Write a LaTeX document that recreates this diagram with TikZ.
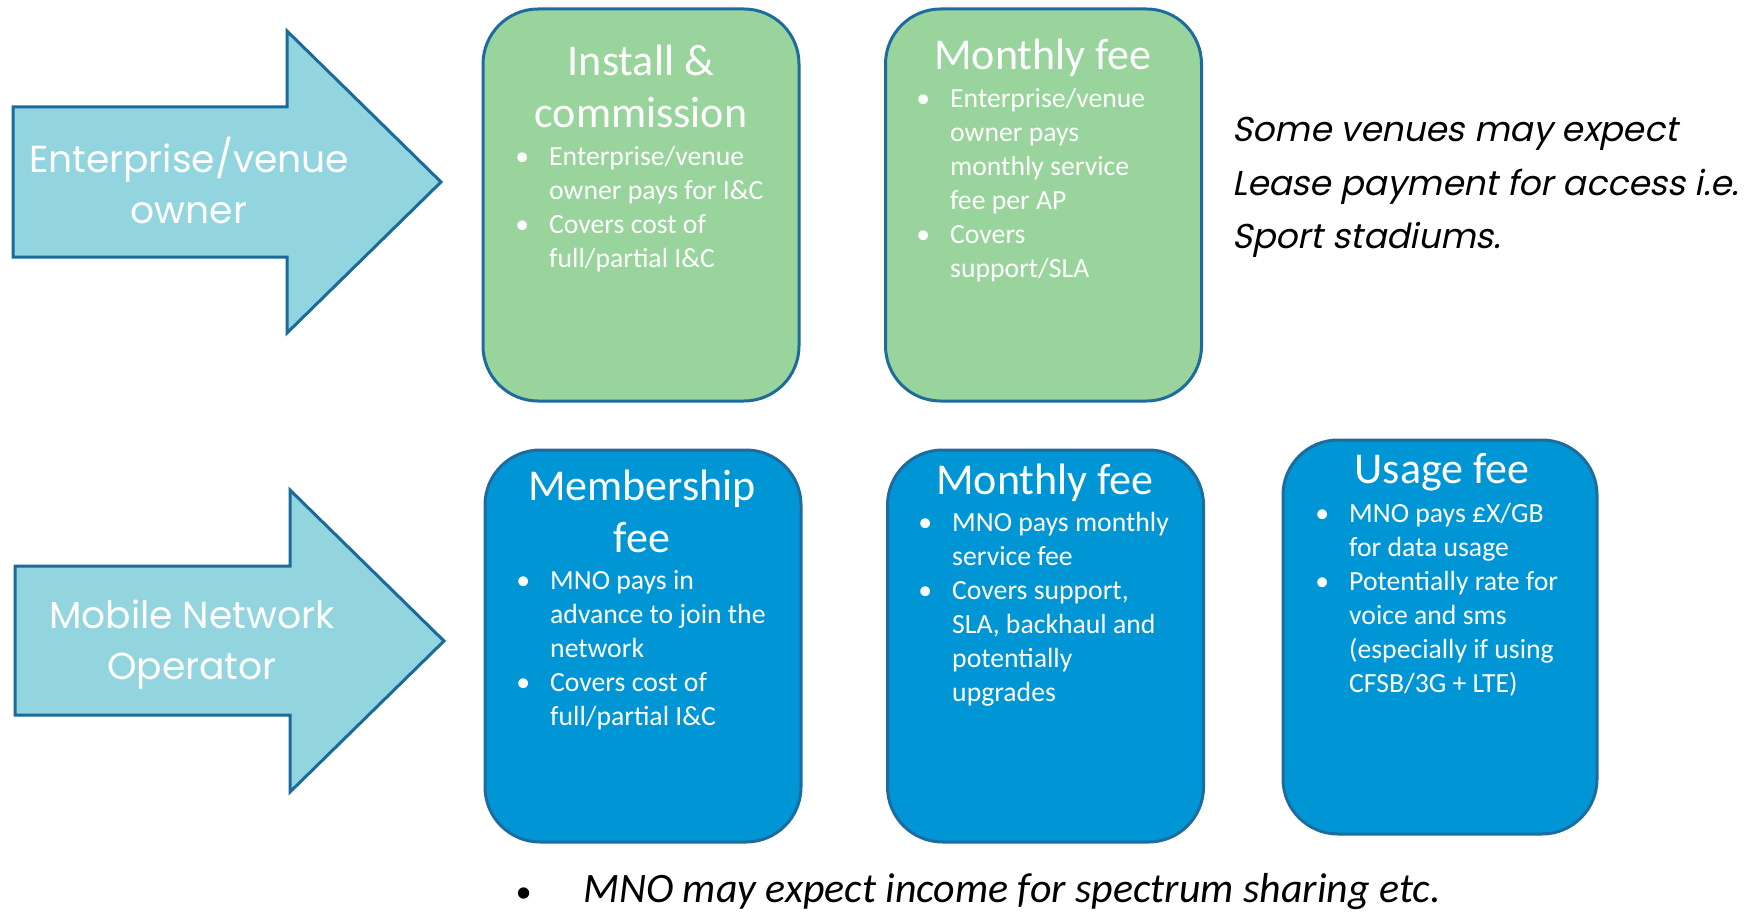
\documentclass[tikz,border=0pt]{standalone}
\usepackage{fontspec}
\setmainfont{Carlito}
\newfontfamily\arrowfont{Poppins}
\newfontfamily\notefont{Poppins}[FakeSlant=0.2]
\definecolor{greenfill}{HTML}{98D49B}
\definecolor{bluefill}{HTML}{0096D6}
\definecolor{boxedge}{HTML}{1E6C9E}
\definecolor{arrowfill}{HTML}{93D5DF}
\definecolor{arrowedge}{HTML}{1A6A9A}
\newcommand\ctab[1]{\begin{tabular}[t]{@{}c@{}}#1\end{tabular}}
\newcommand\ltab[1]{\begin{tabular}[t]{@{}l@{}}#1\end{tabular}}
\newcommand\bul{\llap{\textbullet\hspace{20pt}}}
\tikzset{
  card/.style={draw=boxedge, line width=3pt, rounded corners=55pt,
    minimum width=316pt, minimum height=392pt, inner sep=0pt},
  greencard/.style={card, fill=greenfill},
  bluecard/.style={card, fill=bluefill},
  bigarrow/.style={draw=arrowedge, fill=arrowfill, line width=3pt, line join=miter},
  cardtitle/.style={text=white, inner sep=0pt, anchor=base,
    font=\fontsize{44}{52}\selectfont},
  cardbody/.style={text=white, inner sep=0pt, anchor=base west,
    font=\fontsize{27.7}{34}\selectfont},
  arrowtext/.style={text=white, inner sep=0pt, anchor=base,
    font=\arrowfont\fontsize{37.6}{51}\selectfont},
  notetext/.style={text=black, inner sep=0pt, anchor=base west,
    font=\notefont\fontsize{34.5}{53}\selectfont},
  bottomtext/.style={text=black, inner sep=0pt, anchor=base west,
    font=\itshape\fontsize{41.9}{50}\selectfont},
}
\begin{document}
\begin{tikzpicture}[x=1pt,y=-1pt]
\useasboundingbox[fill=white] (0,0) rectangle (1760,915);

% arrows
\draw[bigarrow] (13,107) -- (287,107) -- (287,31) -- (441,182) -- (287,333)
  -- (287,257) -- (13,257) -- cycle;
\draw[bigarrow] (15,566) -- (290,566) -- (290,490) -- (444,641) -- (290,792)
  -- (290,715) -- (15,715) -- cycle;
\node[arrowtext] (a1t) at (189,172) {\ctab{Enterprise/venue\\owner}};
\node[arrowtext] (a2t) at (192,628) {\ctab{Mobile Network\\Operator}};

% cards
\node[greencard] (g1) at (641,205) {};
\node[greencard] (g2) at (1043.5,205) {};
\node[bluecard] (b1) at (643,646) {};
\node[bluecard] (b2) at (1045.5,646) {};
\node[bluecard, minimum width=314pt, minimum height=394pt] (b3) at (1440,637) {};

% titles
\node[cardtitle] (g1t) at (641,76) {\ctab{Install \&\\commission}};
\node[cardtitle] (g2t) at (1043,70) {Monthly fee};
\node[cardtitle] (b1t) at (642,500) {\ctab{Membership\\fee}};
\node[cardtitle] (b2t) at (1045,494) {Monthly fee};
\node[cardtitle] (b3t) at (1442,483) {Usage fee};

% bodies
\node[cardbody] (g1b) at (549,165) {\ltab{\bul Enterprise/venue\\owner pays for I\&C\\\bul Covers cost of\\full/partial I\&C}};
\node[cardbody] (g2b) at (950,107) {\ltab{\bul Enterprise/venue\\owner pays\\monthly service\\fee per AP\\\bul Covers\\support/SLA}};
\node[cardbody] (b1b) at (550,589) {\ltab{\bul MNO pays in\\advance to join\ the\\network\\\bul Covers cost of\\full/partial I\&C}};
\node[cardbody] (b2b) at (952,531) {\ltab{\bul MNO pays monthly\\service fee\\\bul Covers support,\\SLA, backhaul and\\potentially\\upgrades}};
\node[cardbody] (b3b) at (1349,522) {\ltab{\bul MNO pays £X/GB\\for data usage\\\bul Potentially rate for\\voice and sms\\(especially if using\\CFSB/3G + LTE)}};

% notes
\node[notetext] (note) at (1232,142) {\ltab{Some venues may expect\\Lease payment for access i.e.\\Sport stadiums.}};
\node[bottomtext] (bnote) at (583,902) {\llap{{\fontsize{32}{32}\selectfont\textbullet}\hspace{52pt}}MNO may expect income for spectrum sharing etc.};
\end{tikzpicture}
\end{document}
